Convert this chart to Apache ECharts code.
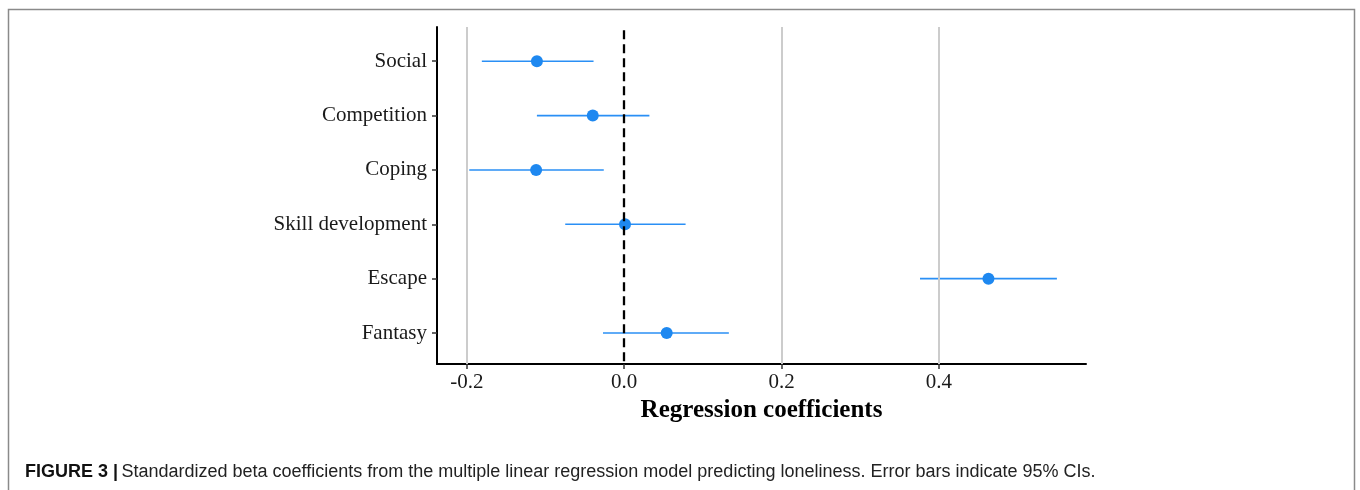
<!DOCTYPE html>
<html>
<head>
<meta charset="utf-8">
<script src="https://cdn.jsdelivr.net/npm/echarts@6/dist/echarts.min.js"></script>
<style>
html,body{margin:0;padding:0;background:#fff;}
#chart{width:1360px;height:490px;}
</style>
</head>
<body>
<div id="chart"></div>
<script>
const categories = ['Social', 'Competition', 'Coping', 'Skill development', 'Escape', 'Fantasy'];
const estimates = [-0.111, -0.040, -0.112, 0.001, 0.463, 0.054];
const ciLower = [-0.181, -0.111, -0.197, -0.075, 0.376, -0.027];
const ciUpper = [-0.039, 0.032, -0.026, 0.078, 0.550, 0.133];
const xTicks = [-0.2, 0.0, 0.2, 0.4];
const gridLinesAt = [-0.2, 0.2, 0.4];
const refLineAt = 0;

const chart = echarts.init(document.getElementById('chart'));
const serif = '"Liberation Serif", "DejaVu Serif", serif';
const rowIdx = categories.map((_, i) => i);

const errData = categories.map((c, i) => [ciLower[i], ciUpper[i], i]);
const ptData = categories.map((c, i) => [estimates[i], i]);

chart.setOption({
  animation: false,
  backgroundColor: '#fff',
  grid: { left: 437, right: 274, top: 27, bottom: 126 },
  xAxis: {
    type: 'value',
    min: -0.238,
    max: 0.587,
    axisLine: { show: true, onZero: false, lineStyle: { color: '#000', width: 2 } },
    axisTick: { show: true, length: 5, customValues: xTicks, lineStyle: { color: '#333', width: 1.5 } },
    axisLabel: {
      customValues: xTicks,
      margin: 8,
      fontFamily: serif, fontSize: 21, color: '#1a1a1a',
      formatter: v => (Math.abs(v) < 1e-9 ? '0.0' : v.toFixed(1))
    },
    splitLine: { show: false },
    name: 'Regression coefficients',
    nameLocation: 'middle',
    nameGap: 34,
    nameTextStyle: { fontFamily: serif, fontSize: 25, fontWeight: 'bold', color: '#000' }
  },
  yAxis: {
    type: 'value',
    inverse: true,
    min: -0.63,
    max: 5.57,
    axisLine: { show: true, onZero: false, lineStyle: { color: '#000', width: 2 } },
    axisTick: { show: true, length: 5, customValues: rowIdx, lineStyle: { color: '#333', width: 1.5 } },
    axisLabel: {
      customValues: rowIdx,
      margin: 10,
      padding: [3, 0, 0, 0],
      fontFamily: serif, fontSize: 21, color: '#1a1a1a',
      formatter: v => categories[Math.round(v)] || ''
    },
    splitLine: { show: false }
  },
  series: [
    {
      type: 'custom',
      name: 'grid',
      silent: true,
      data: [[0, 0]],
      renderItem: () => ({ type: 'group', children: [] }),
      markLine: {
        silent: true,
        symbol: ['none', 'none'],
        label: { show: false },
        lineStyle: { color: '#cccccc', width: 2, type: 'solid' },
        data: gridLinesAt.map(v => ({ xAxis: v }))
      },
      z: 1
    },
    {
      type: 'custom',
      name: 'ref',
      silent: true,
      data: [[0, 0]],
      renderItem: () => ({ type: 'group', children: [] }),
      markLine: {
        silent: true,
        symbol: ['none', 'none'],
        label: { show: false },
        lineStyle: { color: '#000', width: 2.3, type: [9, 5] },
        data: [[{ coord: [refLineAt, -0.57] }, { coord: [refLineAt, 5.57] }]]
      },
      z: 2
    },
    {
      type: 'custom',
      name: 'CI',
      data: errData,
      encode: { x: [0, 1], y: 2 },
      renderItem: (params, api) => {
        const a = api.coord([api.value(0), api.value(2)]);
        const b = api.coord([api.value(1), api.value(2)]);
        return {
          type: 'line',
          shape: { x1: a[0], y1: a[1], x2: b[0], y2: b[1] },
          style: { stroke: '#2a8ff5', lineWidth: 1.6 }
        };
      },
      z: 3
    },
    {
      type: 'scatter',
      name: 'Estimate',
      data: ptData,
      symbol: 'circle',
      symbolSize: 12,
      itemStyle: { color: '#1E88F0', opacity: 1 },
      z: 4
    }
  ],
  graphic: [
    {
      type: 'rect',
      shape: { x: 8.5, y: 9.5, width: 1346, height: 500 },
      style: { fill: 'none', stroke: '#8a8a8a', lineWidth: 1.5 },
      silent: true
    },
    {
      type: 'text',
      left: 25,
      top: 463,
      style: {
        text: '{b|FIGURE 3 |} {n|Standardized beta coefficients from the multiple linear regression model predicting loneliness. Error bars indicate 95% CIs.}',
        rich: {
          b: { fontFamily: '"Liberation Sans", Arial, sans-serif', fontSize: 18, fontWeight: 'bold', fill: '#111' },
          n: { fontFamily: '"Liberation Sans", Arial, sans-serif', fontSize: 18, fill: '#222' }
        }
      }
    }
  ]
});
</script>
</body>
</html>
